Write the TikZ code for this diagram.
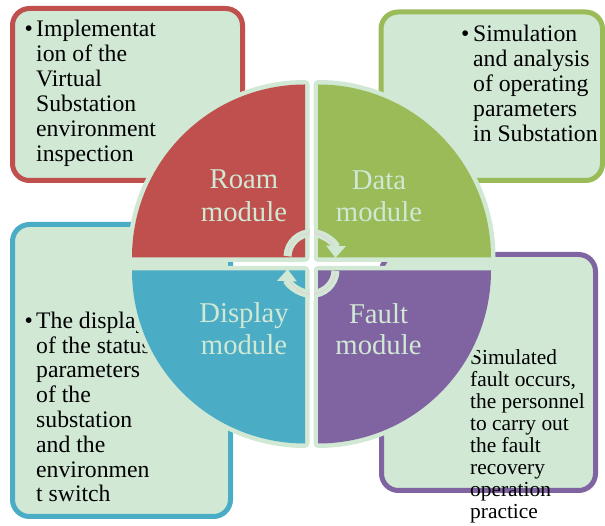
\documentclass[tikz,border=0pt]{standalone}
\usepackage{fontspec}
\setmainfont{Liberation Serif}
\usetikzlibrary{arrows.meta}
\definecolor{pale}{RGB}{208,232,212}
\definecolor{roamc}{RGB}{192,80,77}
\definecolor{datac}{RGB}{155,187,89}
\definecolor{dispc}{RGB}{75,172,198}
\definecolor{faultc}{RGB}{128,100,162}
\definecolor{pinkline}{RGB}{232,205,212}
\begin{document}
\begin{tikzpicture}[x=1pt,y=1pt,
  infobox/.style={draw=#1, line width=5pt, fill=pale, rounded corners=17pt},
  quadfill/.style={fill=#1, preaction={draw=pale, line width=9pt, line join=round}},
  bodytext/.style={inner sep=0pt, anchor=base west, font=\fontsize{23.7}{25}\selectfont},
  smalltext/.style={inner sep=0pt, anchor=base west, font=\fontsize{21.4}{22}\selectfont},
  bulletmark/.style={inner sep=0pt, anchor=base east, font=\fontsize{23.7}{25}\selectfont},
  modlabel/.style={inner sep=0pt, anchor=base, text=pale, font=\fontsize{28.7}{32}\selectfont},
  cyclearrow/.style={draw=pale, line width=8pt, -{Triangle[width=19pt,length=12pt]}},
  pinkthread/.style={draw=pinkline, line width=0.8pt},
]
\useasboundingbox (0,0) rectangle (605,526);
\fill[white] (0,0) rectangle (605,526);

% information boxes
\draw[infobox=roamc]  (12.5,345.5) rectangle (242.5,517.5);
\draw[infobox=datac]  (381,345.5)  rectangle (602.5,514);
\draw[infobox=dispc]  (12.5,9.5)   rectangle (230.5,301.5);
\draw[infobox=faultc] (381.5,35.5) rectangle (595.5,271.5);

% box texts
\node[bulletmark] (rb) at (33,489) {\textbullet};
\foreach \t [count=\i from 0] in {Implementat,ion of the,Virtual,Substation,environment,inspection}
  \node[bodytext] (r\i) at (36,489-25*\i) {\t};

\node[bulletmark] (gb) at (469.5,484.3) {\textbullet};
\foreach \t [count=\i from 0] in {Simulation,and analysis,of operating,parameters,in Substation}
  \node[bodytext] (g\i) at (473,484.3-25*\i) {\t};

\node[bulletmark] (bb) at (33,197.7) {\textbullet};
\foreach \t [count=\i from 0] in {The display,of the status,parameters,of the,substation,and the,environmen,t switch}
  \node[bodytext] (b\i) at (36,197.7-24.8*\i) {\t};

\foreach \t [count=\i from 0] in {Simulated,{fault occurs,},the personnel,to carry out,the fault,recovery,operation,practice}
  \node[smalltext] (p\i) at (470,161-21.9*\i) {\t};

% quadrants of the cycle
\path[quadfill=roamc]  (305,268.5) -- (132,268.5) arc[start angle=180,end angle=90,radius=173] -- cycle;
\path[quadfill=datac]  (318,268.5) -- (318,441.5) arc[start angle=90,end angle=0,radius=173] -- cycle;
\path[quadfill=dispc]  (305,255.5) -- (132,255.5) arc[start angle=180,end angle=270,radius=173] -- cycle;
\path[quadfill=faultc] (318,255.5) -- (318,82.5) arc[start angle=270,end angle=360,radius=173] -- cycle;

% module labels
\node[modlabel] (roam1) at (244,337) {Roam};
\node[modlabel] (roam2) at (244,304) {module};
\node[modlabel] (data1) at (379,336) {Data};
\node[modlabel] (data2) at (379,304) {module};
\node[modlabel] (disp1) at (244,203) {Display};
\node[modlabel] (disp2) at (244,171) {module};
\node[modlabel] (fault1) at (378.5,202) {Fault};
\node[modlabel] (fault2) at (378.5,171) {module};

% circular arrows
\draw[cyclearrow] (311.5,269) ++(178:24) arc[start angle=178,end angle=-2,radius=24];
\draw[cyclearrow] (311.5,256) ++(-2:24) arc[start angle=-2,end angle=-182,radius=24];
\draw[pinkthread] (311.5,269) ++(172:24) arc[start angle=172,end angle=30,radius=24];
\draw[pinkthread] (311.5,256) ++(-8:24) arc[start angle=-8,end angle=-150,radius=24];

% white gap through the arrows
\draw[white, line width=4pt] (311.5,225) -- (311.5,301);
\end{tikzpicture}
\end{document}
